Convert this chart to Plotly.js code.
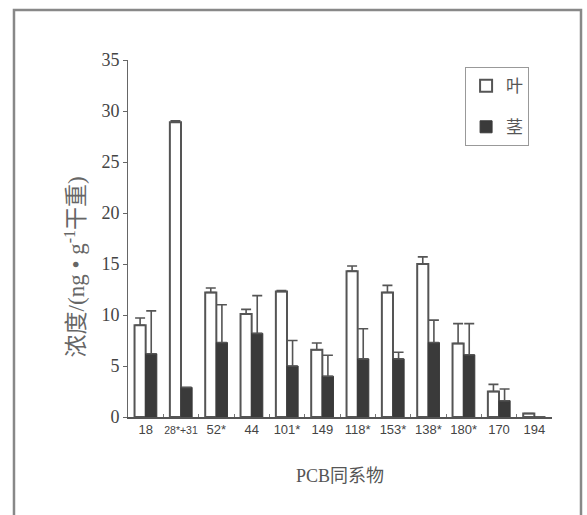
<!DOCTYPE html>
<html>
<head>
<meta charset="utf-8">
<script src="https://cdn.plot.ly/plotly-3.0.1.min.js"></script>
<style>
html,body{margin:0;padding:0;background:#fff;}
#chart{width:587px;height:515px;}
</style>
</head>
<body>
<div id="chart"></div>
<script>
const categories = ["18","28*+31","52*","44","101*","149","118*","153*","138*","180*","170","194"];
const tickLabels = ["18","<span style=\"font-size:10.5px\">28*+31</span>","52*","44","101*","149","118*","153*","138*","180*","170","194"];
const leafValues = [9.0, 28.9, 12.2, 10.1, 12.3, 6.6, 14.3, 12.2, 15.0, 7.2, 2.5, 0.35];
const leafErr    = [0.7, 0.15, 0.45, 0.45, 0.1, 0.65, 0.5, 0.7, 0.7, 1.95, 0.7, 0];
const stemValues = [6.2, 2.9, 7.3, 8.2, 5.0, 4.0, 5.7, 5.7, 7.3, 6.1, 1.6, 0];
const stemErr    = [4.2, 0, 3.7, 3.7, 2.5, 2.05, 2.95, 0.65, 2.2, 3.05, 1.15, 0];
const zeros = categories.map(() => 0);

const serif = "'Liberation Serif', 'Noto Sans CJK SC', serif";
const sans = "'Liberation Sans', Arial, sans-serif";

const traces = [
  {
    type: 'bar', name: '叶', x: categories, y: leafValues,
    marker: {color: '#ffffff', line: {color: '#555555', width: 2}},
    error_y: {type: 'data', symmetric: false, array: leafErr, arrayminus: zeros,
              color: '#555555', thickness: 1.6, width: 5},
    legendgroup: 'a'
  },
  {
    type: 'bar', name: '茎', x: categories, y: stemValues,
    marker: {color: '#3a3a3a', line: {color: '#3a3a3a', width: 1}},
    error_y: {type: 'data', symmetric: false, array: stemErr, arrayminus: zeros,
              color: '#555555', thickness: 1.6, width: 5},
    legendgroup: 'b'
  }
];

const layout = {
  width: 587, height: 515,
  margin: {l: 128, r: 35, t: 60, b: 98},
  paper_bgcolor: '#ffffff', plot_bgcolor: '#ffffff',
  barmode: 'group', bargap: 0.37, bargroupgap: 0,
  showlegend: true,
  legend: {
    x: 0.795, y: 0.98, xanchor: 'left', yanchor: 'top',
    bordercolor: '#999999', borderwidth: 1, bgcolor: '#ffffff',
    font: {family: "'Noto Sans CJK SC', sans-serif", size: 17, color: '#555555'},
    tracegroupgap: 16, traceorder: 'grouped', itemwidth: 30
  },
  xaxis: {
    type: 'category',
    tickmode: 'array', tickvals: categories, ticktext: tickLabels, tickangle: 0,
    showline: true, linecolor: '#555555', linewidth: 1.5,
    ticks: 'inside', tickson: 'boundaries', ticklen: 3, tickcolor: '#777777',
    tickfont: {family: sans, size: 13, color: '#444444'},
    showgrid: false, zeroline: false,
    title: {text: 'PCB同系物', font: {family: serif, size: 18, color: '#555555'}, standoff: 33}
  },
  yaxis: {
    range: [0, 35], dtick: 5,
    showline: true, linecolor: '#666666', linewidth: 1,
    ticks: 'outside', ticklen: 4, tickcolor: '#666666',
    tickfont: {family: serif, size: 18, color: '#444444'},
    showgrid: false, zeroline: false
  },
  annotations: [
    {text: '浓度/(ng • g<sup>-1</sup>干重)', xref: 'paper', yref: 'paper',
     x: -0.125, y: 0.419, xanchor: 'center', yanchor: 'middle', textangle: -90,
     showarrow: false, font: {family: serif, size: 23, color: '#666666'}}
  ],
  shapes: [
    {type: 'path', xref: 'paper', yref: 'paper',
     path: 'M -0.2689,-0.3 L -0.2689,1.1403 L 1.0684,1.1403 L 1.0684,-0.3',
     line: {color: '#888888', width: 2.5}}
  ]
};

Plotly.newPlot('chart', traces, layout, {displayModeBar: false, staticPlot: true});
</script>
</body>
</html>
